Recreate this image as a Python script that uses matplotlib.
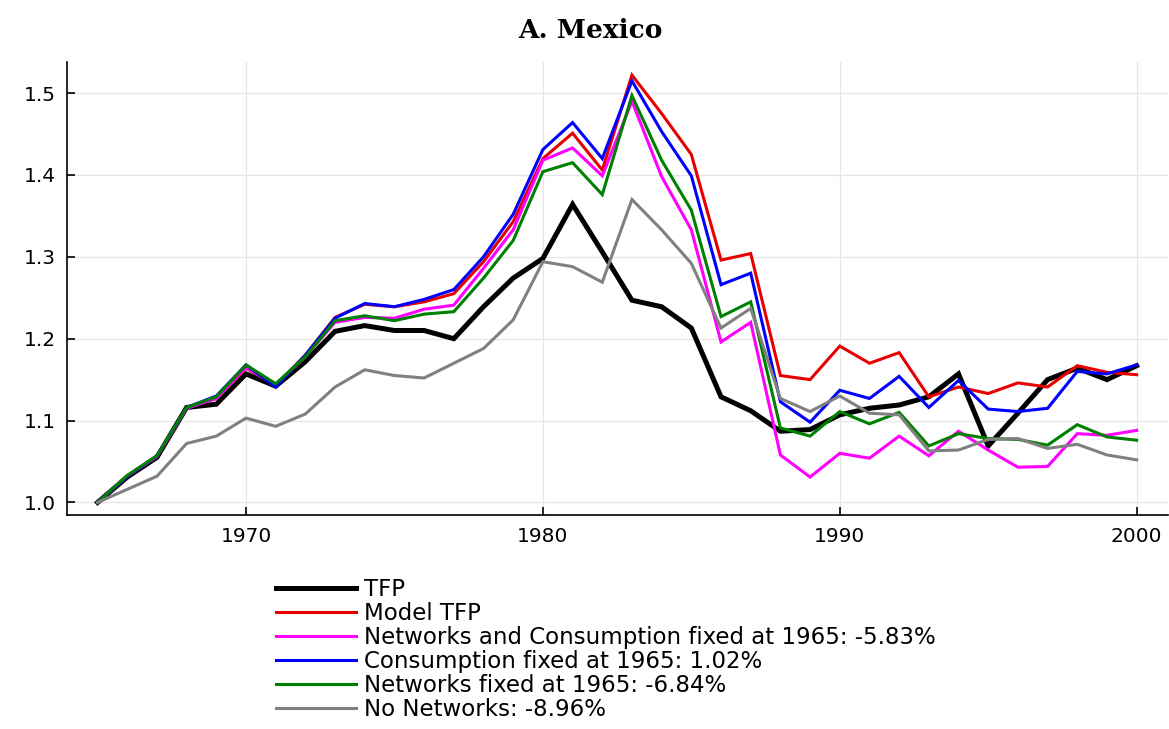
import matplotlib
matplotlib.use("Agg")
import matplotlib.pyplot as plt

# years and series
years = list(range(1965, 2001))

tfp = [1.000, 1.031, 1.055, 1.116, 1.120, 1.157, 1.142, 1.172, 1.209, 1.216, 1.210, 1.210,
       1.200, 1.239, 1.274, 1.298, 1.364, 1.306, 1.247, 1.239, 1.213, 1.129, 1.112, 1.087,
       1.089, 1.107, 1.115, 1.119, 1.129, 1.157, 1.069, 1.109, 1.150, 1.164, 1.150, 1.167]

model_tfp = [1.000, 1.032, 1.057, 1.116, 1.127, 1.164, 1.143, 1.180, 1.226, 1.242, 1.239, 1.245,
             1.255, 1.294, 1.343, 1.420, 1.451, 1.406, 1.522, 1.475, 1.425, 1.296, 1.304, 1.155,
             1.150, 1.191, 1.170, 1.183, 1.129, 1.141, 1.133, 1.146, 1.141, 1.167, 1.159, 1.156]

net_cons_fixed = [1.000, 1.032, 1.056, 1.115, 1.127, 1.165, 1.143, 1.178, 1.220, 1.226, 1.225, 1.236,
                  1.241, 1.286, 1.333, 1.418, 1.433, 1.399, 1.490, 1.398, 1.333, 1.196, 1.220, 1.058,
                  1.031, 1.060, 1.054, 1.081, 1.057, 1.087, 1.064, 1.043, 1.044, 1.084, 1.082, 1.088]

cons_fixed = [1.000, 1.032, 1.057, 1.116, 1.130, 1.168, 1.141, 1.180, 1.225, 1.243, 1.239, 1.248,
              1.260, 1.300, 1.352, 1.431, 1.464, 1.420, 1.515, 1.453, 1.399, 1.266, 1.280, 1.123,
              1.098, 1.137, 1.127, 1.154, 1.116, 1.149, 1.114, 1.111, 1.115, 1.160, 1.157, 1.168]

net_fixed = [1.000, 1.033, 1.057, 1.116, 1.129, 1.168, 1.145, 1.178, 1.222, 1.228, 1.222, 1.230,
             1.233, 1.274, 1.320, 1.404, 1.415, 1.376, 1.497, 1.418, 1.357, 1.227, 1.245, 1.091,
             1.081, 1.111, 1.096, 1.110, 1.069, 1.084, 1.078, 1.077, 1.070, 1.095, 1.080, 1.076]

no_networks = [1.000, 1.016, 1.032, 1.072, 1.081, 1.103, 1.093, 1.108, 1.141, 1.162, 1.155, 1.152,
               1.170, 1.188, 1.223, 1.294, 1.288, 1.269, 1.370, 1.333, 1.292, 1.213, 1.237, 1.127,
               1.111, 1.130, 1.109, 1.107, 1.063, 1.064, 1.077, 1.078, 1.066, 1.071, 1.058, 1.052]

labels = ["TFP", "Model TFP", "Networks and Consumption fixed at 1965: -5.83%",
          "Consumption fixed at 1965: 1.02%", "Networks fixed at 1965: -6.84%",
          "No Networks: -8.96%"]
colors = ["black", "#e80000", "#ff00ff", "#0000ff", "#008000", "#808080"]
widths = [3.6, 2.2, 2.2, 2.2, 2.2, 2.2]
series = [tfp, model_tfp, net_cons_fixed, cons_fixed, net_fixed, no_networks]

fig = plt.figure(figsize=(11.69, 7.29), dpi=100)
ax = fig.add_axes([0.0573, 0.2936, 0.9417, 0.6214])

for s, lab, c, w in zip(series, labels, colors, widths):
    ax.plot(years, s, color=c, lw=w, label=lab, solid_joinstyle="miter")

ax.set_xlim(1963.97, 2001.05)
ax.set_ylim(0.9847, 1.538)
ax.set_xticks([1970, 1980, 1990, 2000])
ax.set_yticks([1.0, 1.1, 1.2, 1.3, 1.4, 1.5])
ax.set_yticklabels(["1.0", "1.1", "1.2", "1.3", "1.4", "1.5"])
ax.grid(True, color="#e6e6e6", lw=0.9)
ax.set_axisbelow(True)
ax.tick_params(direction="in", length=6, width=1.2, labelsize=14.5)
ax.tick_params(axis="x", pad=9)
ax.tick_params(axis="y", pad=8)
ax.spines["top"].set_visible(False)
ax.spines["right"].set_visible(False)
ax.spines["left"].set_linewidth(1.2)
ax.spines["bottom"].set_linewidth(1.2)

fig.text(0.505, 0.958, "A. Mexico", ha="center", va="center",
         fontsize=19, fontweight="bold", family="DejaVu Serif")

fig.legend(loc="upper left", bbox_to_anchor=(0.236, 0.2075), frameon=False,
           fontsize=16.5, handlelength=3.5, handletextpad=0.36,
           labelspacing=0.05, borderpad=0, borderaxespad=0)

fig.savefig("out.png", dpi=100)
